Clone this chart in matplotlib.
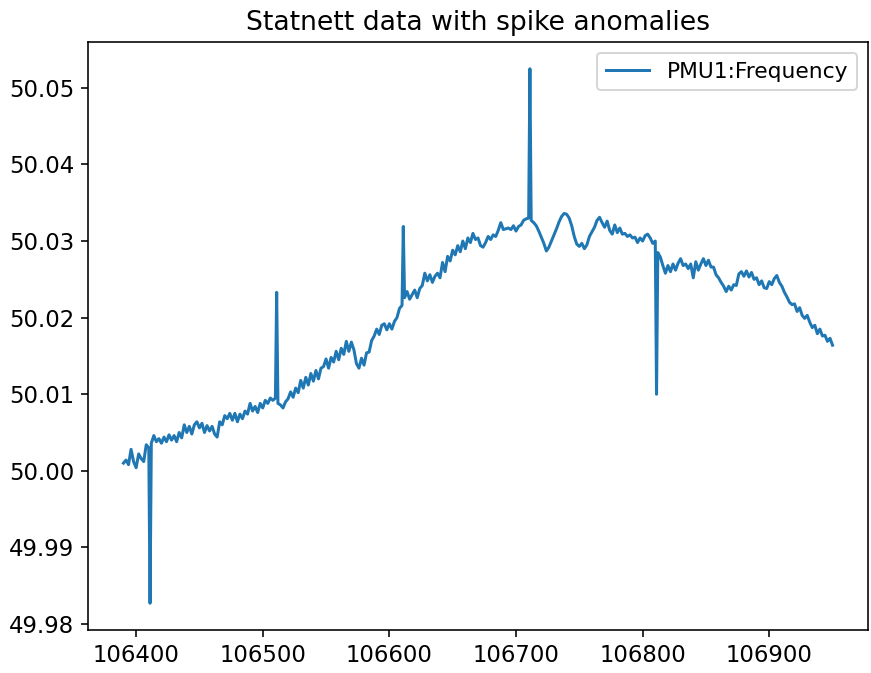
import numpy as np
import matplotlib
matplotlib.use("Agg")
import matplotlib.pyplot as plt

# base signal, sampled every 2 units starting at 106390
x_start = 106390
x_step = 2

frequency = [
    50.0010, 50.0014, 50.0008, 50.0028, 50.0012, 50.0004, 50.0022, 50.0016, 50.0012, 50.0034,
    50.0030, 50.0036, 50.0046, 50.0038, 50.0042, 50.0036, 50.0044, 50.0038, 50.0047, 50.0040,
    50.0046, 50.0038, 50.0050, 50.0043, 50.0060, 50.0050, 50.0058, 50.0048, 50.0060, 50.0064,
    50.0056, 50.0062, 50.0050, 50.0059, 50.0052, 50.0058, 50.0048, 50.0044, 50.0064, 50.0060,
    50.0072, 50.0068, 50.0075, 50.0066, 50.0075, 50.0064, 50.0074, 50.0068, 50.0078, 50.0074,
    50.0088, 50.0078, 50.0084, 50.0076, 50.0088, 50.0082, 50.0092, 50.0088, 50.0095, 50.0092,
    50.0095, 50.0088, 50.0086, 50.0082, 50.0090, 50.0094, 50.0103, 50.0096, 50.0108, 50.0102,
    50.0118, 50.0108, 50.0122, 50.0112, 50.0127, 50.0117, 50.0131, 50.0120, 50.0134, 50.0136,
    50.0146, 50.0134, 50.0148, 50.0142, 50.0156, 50.0145, 50.0160, 50.0152, 50.0169, 50.0156,
    50.0168, 50.0158, 50.0140, 50.0134, 50.0147, 50.0138, 50.0154, 50.0155, 50.0170, 50.0176,
    50.0185, 50.0178, 50.0190, 50.0192, 50.0184, 50.0192, 50.0185, 50.0195, 50.0200, 50.0212,
    50.0216, 50.0226, 50.0234, 50.0224, 50.0230, 50.0236, 50.0226, 50.0238, 50.0242, 50.0258,
    50.0248, 50.0256, 50.0246, 50.0254, 50.0258, 50.0252, 50.0272, 50.0260, 50.0280, 50.0274,
    50.0288, 50.0282, 50.0294, 50.0286, 50.0300, 50.0290, 50.0304, 50.0298, 50.0310, 50.0302,
    50.0304, 50.0294, 50.0292, 50.0298, 50.0306, 50.0302, 50.0308, 50.0306, 50.0314, 50.0324,
    50.0315, 50.0316, 50.0317, 50.0315, 50.0320, 50.0313, 50.0319, 50.0321, 50.0327, 50.0329,
    50.0330, 50.0327, 50.0324, 50.0320, 50.0313, 50.0305, 50.0297, 50.0287, 50.0292, 50.0300,
    50.0308, 50.0316, 50.0325, 50.0332, 50.0336, 50.0335, 50.0330, 50.0320, 50.0306, 50.0296,
    50.0293, 50.0297, 50.0290, 50.0295, 50.0306, 50.0312, 50.0318, 50.0327, 50.0331, 50.0324,
    50.0318, 50.0326, 50.0314, 50.0309, 50.0321, 50.0311, 50.0317, 50.0309, 50.0310, 50.0306,
    50.0308, 50.0304, 50.0305, 50.0298, 50.0304, 50.0300, 50.0307, 50.0309, 50.0304, 50.0297,
    50.0300, 50.0285, 50.0279, 50.0268, 50.0258, 50.0268, 50.0260, 50.0270, 50.0262, 50.0271,
    50.0277, 50.0268, 50.0270, 50.0264, 50.0270, 50.0252, 50.0273, 50.0262, 50.0270, 50.0277,
    50.0268, 50.0275, 50.0266, 50.0266, 50.0256, 50.0252, 50.0246, 50.0241, 50.0234, 50.0241,
    50.0236, 50.0243, 50.0242, 50.0257, 50.0260, 50.0254, 50.0261, 50.0253, 50.0259, 50.0250,
    50.0252, 50.0243, 50.0248, 50.0239, 50.0238, 50.0247, 50.0243, 50.0251, 50.0255, 50.0246,
    50.0241, 50.0233, 50.0227, 50.0220, 50.0217, 50.0218, 50.0208, 50.0213, 50.0203, 50.0199,
    50.0203, 50.0194, 50.0187, 50.0190, 50.0179, 50.0185, 50.0176, 50.0177, 50.0169, 50.0173,
    50.0164,
]

# injected spike anomalies
spike_x = [106411, 106511, 106611, 106711, 106811]
spike_y = [49.9827, 50.0233, 50.0319, 50.0525, 50.0100]

series_label = "PMU1:Frequency"
title = "Statnett data with spike anomalies"

base_x = x_start + x_step * np.arange(len(frequency))
all_x = np.concatenate([base_x, np.array(spike_x)])
all_y = np.concatenate([np.array(frequency), np.array(spike_y)])
order = np.argsort(all_x, kind="stable")
all_x = all_x[order]
all_y = all_y[order]

fig = plt.figure(figsize=(871 / 144, 673 / 144), dpi=144)
ax = fig.add_axes([88 / 871, 43 / 673, 780 / 871, 588 / 673])
ax.plot(all_x, all_y, color="#1f77b4", linewidth=1.5, label=series_label)
ax.set_title(title, fontsize=13.3)
ax.tick_params(labelsize=11.4)
ax.legend(loc="upper right", fontsize=10.9)
fig.savefig("out.png", dpi=144)
